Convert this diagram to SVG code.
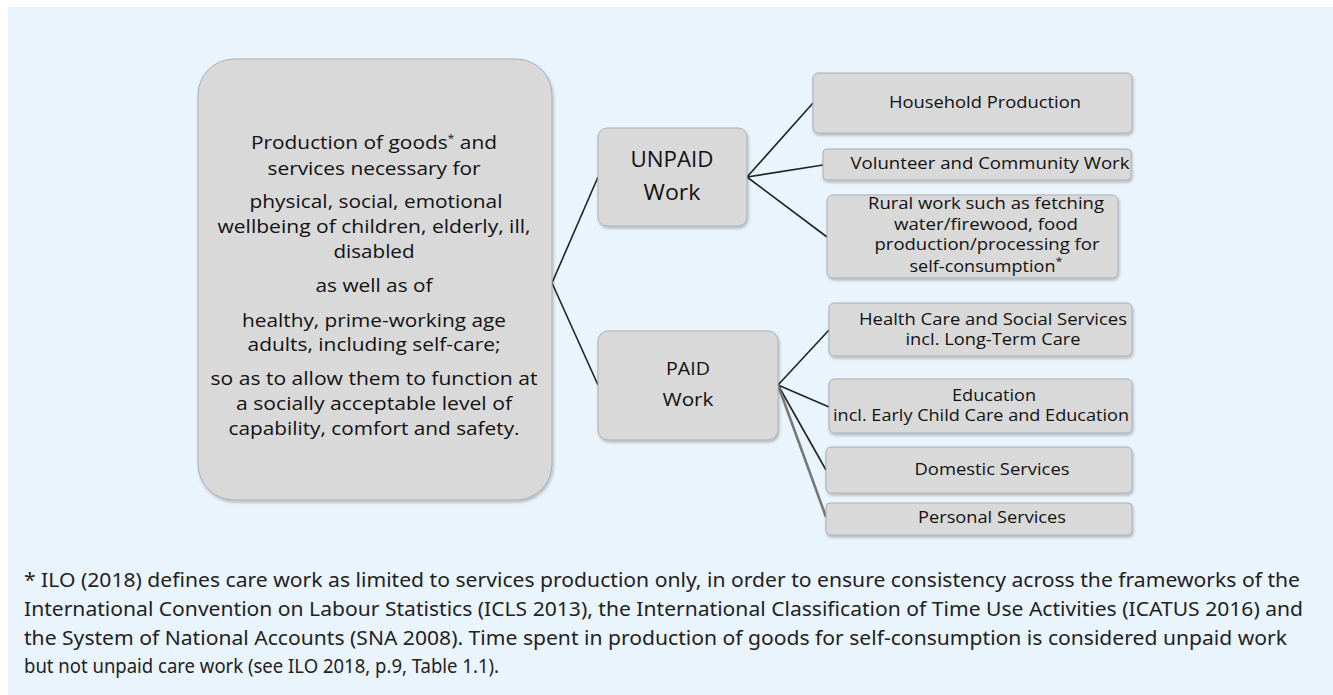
<svg xmlns="http://www.w3.org/2000/svg" width="1333" height="695" viewBox="0 0 1333 695">
  <defs>
    <filter id="shadow" x="-10%" y="-10%" width="120%" height="130%">
      <feDropShadow dx="1" dy="2" stdDeviation="1.5" flood-color="#000" flood-opacity="0.25"/>
    </filter>
    <style>
      .box { fill: #D9D9D9; stroke: #A9AEB5; stroke-width: 1; filter: url(#shadow); }
      .txt { font-family: "Open Sans", "Noto Sans", sans-serif; fill: #111; text-anchor: middle; }
      .main { font-size: 18.5px; }
      .mid { font-size: 21px; }
      .paid { font-size: 17.5px; }
      .leaf { font-size: 15.5px; }
      .note { font-family: "Noto Sans", "Open Sans", sans-serif; font-size: 19px; fill: #222; }
      .link { stroke: #222; stroke-width: 1.6; fill: none; }
      .link2 { stroke: #777; stroke-width: 2.6; fill: none; }
      .sup { font-size: 11px; }
    </style>
  </defs>

  <rect x="8" y="7" width="1325" height="688" fill="#EAF4FD"/>

  <!-- connectors -->
  <g id="connectors">
    <path class="link" d="M552,283 L598,177"/>
    <path class="link" d="M552,283 L598,385"/>
    <path class="link" d="M747,177 L813,103"/>
    <path class="link" d="M747,177 L823,165"/>
    <path class="link" d="M747,177 L827,237"/>
    <path class="link" d="M778,385 L829,330"/>
    <path class="link" d="M778,385 L829,407"/>
    <path class="link" d="M778,385 L826,470"/>
    <path class="link2" d="M778,385 L826,517"/>
  </g>

  <!-- definition of care work -->
  <g id="definition">
    <rect class="box" x="198" y="59" width="354" height="441" rx="36"/>
    <text class="txt main" x="374" y="149" textLength="246" lengthAdjust="spacingAndGlyphs">Production of goods<tspan class="sup" dy="-7">*</tspan><tspan dy="7"> and</tspan></text>
    <text class="txt main" x="374" y="175" textLength="213" lengthAdjust="spacingAndGlyphs">services necessary for</text>
    <text class="txt main" x="376" y="208" textLength="253" lengthAdjust="spacingAndGlyphs">physical, social, emotional</text>
    <text class="txt main" x="374" y="233" textLength="313" lengthAdjust="spacingAndGlyphs">wellbeing of children, elderly, ill,</text>
    <text class="txt main" x="374" y="258" textLength="81" lengthAdjust="spacingAndGlyphs">disabled</text>
    <text class="txt main" x="374" y="292" textLength="117" lengthAdjust="spacingAndGlyphs">as well as of</text>
    <text class="txt main" x="374" y="327" textLength="264" lengthAdjust="spacingAndGlyphs">healthy, prime-working age</text>
    <text class="txt main" x="374" y="351" textLength="253" lengthAdjust="spacingAndGlyphs">adults, including self-care;</text>
    <text class="txt main" x="374" y="385" textLength="327" lengthAdjust="spacingAndGlyphs">so as to allow them to function at</text>
    <text class="txt main" x="374" y="410" textLength="276" lengthAdjust="spacingAndGlyphs">a socially acceptable level of</text>
    <text class="txt main" x="374" y="435" textLength="291" lengthAdjust="spacingAndGlyphs">capability, comfort and safety.</text>
  </g>

  <!-- unpaid work -->
  <g id="unpaid">
    <rect class="box" x="598" y="128" width="149" height="98" rx="9"/>
    <text class="txt mid" x="672" y="167" textLength="83" lengthAdjust="spacingAndGlyphs">UNPAID</text>
    <text class="txt mid" x="672" y="200" textLength="57" lengthAdjust="spacingAndGlyphs">Work</text>
  </g>

  <!-- paid work -->
  <g id="paid">
    <rect class="box" x="598" y="331" width="180" height="109" rx="10"/>
    <text class="txt paid" x="688" y="375" textLength="44" lengthAdjust="spacingAndGlyphs">PAID</text>
    <text class="txt paid" x="688" y="406" textLength="51" lengthAdjust="spacingAndGlyphs">Work</text>
  </g>

  <!-- unpaid categories -->
  <g id="household">
    <rect class="box" x="813" y="73" width="319" height="60" rx="5"/>
    <text class="txt leaf" x="985" y="108" textLength="192" lengthAdjust="spacingAndGlyphs">Household Production</text>
  </g>
  <g id="volunteer">
    <rect class="box" x="823" y="149" width="308" height="31" rx="4"/>
    <text class="txt leaf" x="990" y="169" textLength="279" lengthAdjust="spacingAndGlyphs">Volunteer and Community Work</text>
  </g>
  <g id="rural">
    <rect class="box" x="827" y="195" width="291" height="83" rx="6"/>
    <text class="txt leaf" x="986" y="209" textLength="236" lengthAdjust="spacingAndGlyphs">Rural work such as fetching</text>
    <text class="txt leaf" x="986" y="230" textLength="184" lengthAdjust="spacingAndGlyphs">water/firewood, food</text>
    <text class="txt leaf" x="987" y="250" textLength="225" lengthAdjust="spacingAndGlyphs">production/processing for</text>
    <text class="txt leaf" x="986" y="272" textLength="153" lengthAdjust="spacingAndGlyphs">self-consumption<tspan class="sup" dy="-7">*</tspan></text>
  </g>

  <!-- paid categories -->
  <g id="health">
    <rect class="box" x="829" y="303" width="303" height="53" rx="5"/>
    <text class="txt leaf" x="993" y="325" textLength="268" lengthAdjust="spacingAndGlyphs">Health Care and Social Services</text>
    <text class="txt leaf" x="993" y="345" textLength="175" lengthAdjust="spacingAndGlyphs">incl. Long-Term Care</text>
  </g>
  <g id="education">
    <rect class="box" x="829" y="379" width="303" height="54" rx="5"/>
    <text class="txt leaf" x="994" y="401" textLength="84" lengthAdjust="spacingAndGlyphs">Education</text>
    <text class="txt leaf" x="981" y="421" textLength="296" lengthAdjust="spacingAndGlyphs">incl. Early Child Care and Education</text>
  </g>
  <g id="domestic">
    <rect class="box" x="826" y="447" width="306" height="46" rx="5"/>
    <text class="txt leaf" x="992" y="475" textLength="155" lengthAdjust="spacingAndGlyphs">Domestic Services</text>
  </g>
  <g id="personal">
    <rect class="box" x="826" y="503" width="306" height="32" rx="4"/>
    <text class="txt leaf" x="992" y="523" textLength="148" lengthAdjust="spacingAndGlyphs">Personal Services</text>
  </g>

  <!-- footnote -->
  <g id="footnote">
    <text class="note" x="24" y="587" textLength="1276" lengthAdjust="spacingAndGlyphs">* ILO (2018) defines care work as limited to services production only, in order to ensure consistency across the frameworks of the</text>
    <text class="note" x="24" y="616" textLength="1279" lengthAdjust="spacingAndGlyphs">International Convention on Labour Statistics (ICLS 2013), the International Classification of Time Use Activities (ICATUS 2016) and</text>
    <text class="note" x="24" y="645" textLength="1263" lengthAdjust="spacingAndGlyphs">the System of National Accounts (SNA 2008). Time spent in production of goods for self-consumption is considered unpaid work</text>
    <text class="note" x="24" y="673" textLength="475" lengthAdjust="spacingAndGlyphs">but not unpaid care work (see ILO 2018, p.9, Table 1.1).</text>
  </g>
</svg>
